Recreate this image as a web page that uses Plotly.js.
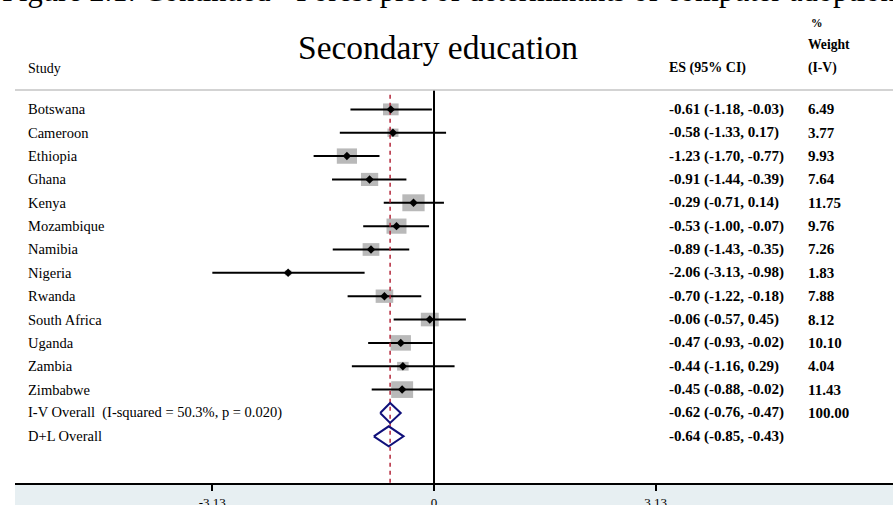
<!DOCTYPE html>
<html>
<head>
<meta charset="utf-8">
<script src="https://cdn.plot.ly/plotly-3.0.1.min.js"></script>
<style>html,body{margin:0;padding:0;background:#fff;}#chart{width:893px;height:505px;}</style>
</head>
<body>
<div id="chart"></div>
<script>
// ---- data ----
const studies = ['Botswana','Cameroon','Ethiopia','Ghana','Kenya','Mozambique','Namibia','Nigeria','Rwanda','South Africa','Uganda','Zambia','Zimbabwe'];
const es = [-0.61,-0.58,-1.23,-0.91,-0.29,-0.53,-0.89,-2.06,-0.70,-0.06,-0.47,-0.44,-0.45];
const ciLow = [-1.18,-1.33,-1.70,-1.44,-0.71,-1.00,-1.43,-3.13,-1.22,-0.57,-0.93,-1.16,-0.88];
const ciHigh = [-0.03,0.17,-0.77,-0.39,0.14,-0.07,-0.35,-0.98,-0.18,0.45,-0.02,0.29,-0.02];
const weights = [6.49,3.77,9.93,7.64,11.75,9.76,7.26,1.83,7.88,8.12,10.10,4.04,11.43];
const pooledLabels = ['I-V Overall\u00a0 (I-squared = 50.3%, p = 0.020)','D+L Overall'];
const pooledES = [-0.62,-0.64];
const pooledLow = [-0.76,-0.85];
const pooledHigh = [-0.47,-0.43];
const pooledWeights = ['100.00',''];
const tickVals = [-3.13,0,3.13];
const tickText = ['-3.13','0','3.13'];
const figureTitle = 'Figure 2.1: Continued - Forest plot of determinants of computer adoption';
const panelTitle = 'Secondary education';

// ---- layout constants ----
const W = 893, H = 505;
const M = {l:15, r:0, t:90, b:22};
const XR = [-5.916, 6.48];
const YR = [16.0, -0.83];
const plotW = W - M.l - M.r, plotH = H - M.t - M.b;
const pxPerX = plotW / (XR[1]-XR[0]);
const pxPerRow = plotH / (YR[0]-YR[1]);
const serif = 'Liberation Serif, Times New Roman, serif';
const xLabel = XR[0] + (26 - M.l)/pxPerX;
const xES = XR[0] + (667 - M.l)/pxPerX;
const xWt = XR[0] + (806 - M.l)/pxPerX;
const pyPaper = px => 1 + (M.t - px)/plotH;

const rows = studies.map((_, i) => i);
const pooledRows = pooledLabels.map((_, i) => studies.length + i);
const fmt = v => v.toFixed(2);

const traces = [];
// CI lines
const cx = [], cy = [];
rows.forEach(i => { cx.push(ciLow[i], ciHigh[i], null); cy.push(i, i, null); });
traces.push({type:'scatter', mode:'lines', x:cx, y:cy, line:{color:'#000', width:2}, hoverinfo:'skip', showlegend:false});
// overall line (red dashed)
traces.push({type:'scatter', mode:'lines', x:[pooledES[0], pooledES[0]], y:[YR[1]+0.2, YR[0]], line:{color:'#b4283c', width:1.5, dash:'4px,4px'}, hoverinfo:'skip', showlegend:false});
// point estimates
traces.push({type:'scatter', mode:'markers', x:es, y:rows, marker:{symbol:'diamond', size:6.5, color:'#000'}, hoverinfo:'skip', showlegend:false});
// pooled diamonds
const dx = [], dy = [];
const dh = 10 / pxPerRow;
pooledRows.forEach((r, k) => {
  dx.push(pooledLow[k], pooledES[k], pooledHigh[k], pooledES[k], pooledLow[k], null);
  dy.push(r, r - dh, r, r + dh, r, null);
});
traces.push({type:'scatter', mode:'lines', x:dx, y:dy, line:{color:'#10107a', width:2}, hoverinfo:'skip', showlegend:false});

// weight boxes
const shapes = [];
rows.forEach(i => {
  const wpx = Math.max(7.58*Math.sqrt(weights[i]) - 3.7, 4);
  const hpx = wpx * 0.76;
  const hw = wpx/2/pxPerX, hh = hpx/2/pxPerRow;
  shapes.push({type:'rect', xref:'x', yref:'y', x0:es[i]-hw, x1:es[i]+hw, y0:i-hh, y1:i+hh, fillcolor:'#b9b9b9', line:{width:0}, layer:'below'});
});
// top rule
shapes.push({type:'line', xref:'paper', yref:'paper', x0:0, x1:1, y0:1, y1:1, line:{color:'#c4c4c4', width:1.5}});
// bottom band
shapes.push({type:'rect', xref:'paper', yref:'paper', x0:0, x1:1, y0:-(M.b+5)/plotH, y1:0, fillcolor:'#e7eff2', line:{width:0}, layer:'below'});

const annotations = [];
const lab = (text, x, y, yref, size, bold, anchor) => annotations.push({
  text: bold ? '<b>'+text+'</b>' : text, x:x, y:y, xref:'x', yref:yref, xanchor:anchor||'left', yanchor:'middle',
  showarrow:false, font:{family:serif, size:size, color:'#000'}
});
rows.forEach(i => {
  lab(studies[i], xLabel, i, 'y', 14.5, false);
  lab(fmt(es[i])+' ('+fmt(ciLow[i])+', '+fmt(ciHigh[i])+')', xES, i, 'y', 15, true);
  lab(fmt(weights[i]), xWt, i, 'y', 15, true);
});
pooledRows.forEach((r, k) => {
  lab(pooledLabels[k], xLabel, r, 'y', 14.5, false);
  lab(fmt(pooledES[k])+' ('+fmt(pooledLow[k])+', '+fmt(pooledHigh[k])+')', xES, r, 'y', 15, true);
  if (pooledWeights[k]) lab(pooledWeights[k], xWt, r, 'y', 15, true);
});
// headers
lab('Study', xLabel, pyPaper(68), 'paper', 14, false);
lab('ES (95% CI)', xES, pyPaper(68), 'paper', 14, true);
lab('%', xWt + 3/pxPerX, pyPaper(23), 'paper', 11.5, true);
lab('Weight', xWt, pyPaper(45), 'paper', 13.6, true);
lab('(I-V)', xWt, pyPaper(68), 'paper', 13.6, true);
// figure caption (cut at top)
annotations.push({text:figureTitle, xref:'paper', yref:'paper', x:-M.l/plotW, y:pyPaper(-9), xanchor:'left', yanchor:'middle', showarrow:false, font:{family:serif, size:30.5, color:'#000'}});

const layout = {
  width:W, height:H, margin:M,
  paper_bgcolor:'#fff', plot_bgcolor:'rgba(0,0,0,0)',
  title:{text:panelTitle, x:438/W, xanchor:'center', y:1-47.4/H, yanchor:'middle', xref:'container', yref:'container', font:{family:serif, size:33.5, color:'#000'}},
  xaxis:{range:XR, showgrid:false, zeroline:true, zerolinecolor:'#000', zerolinewidth:2,
    showline:true, linecolor:'#000', linewidth:2, ticks:'outside', ticklen:6, tickwidth:2, tickcolor:'#000',
    tickvals:tickVals, ticktext:tickText, tickfont:{family:serif, size:13, color:'#000'}, ticklabelstandoff:0, fixedrange:true},
  yaxis:{range:YR, visible:false, showgrid:false, zeroline:false, fixedrange:true},
  shapes:shapes, annotations:annotations, showlegend:false
};
Plotly.newPlot('chart', traces, layout, {displayModeBar:false, staticPlot:true});
</script>
</body>
</html>
